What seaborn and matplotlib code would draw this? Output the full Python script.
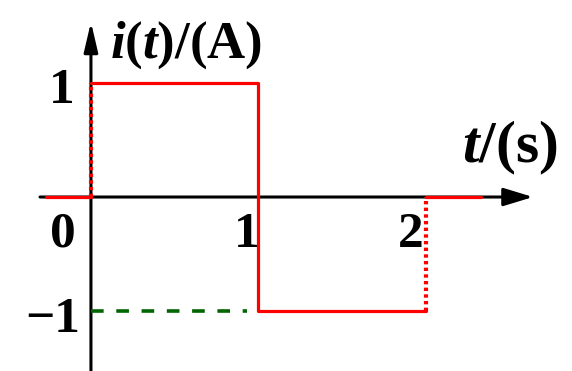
import matplotlib
matplotlib.use("Agg")
import matplotlib.pyplot as plt
import seaborn as sns
import pandas as pd

sns.set_style("white")
plt.rcParams["font.family"] = ["Liberation Serif", "DejaVu Serif"]
plt.rcParams["text.color"] = "black"
plt.rcParams["mathtext.fontset"] = "custom"
plt.rcParams["mathtext.rm"] = "Liberation Serif:bold"
plt.rcParams["mathtext.bf"] = "Liberation Serif:bold"
plt.rcParams["mathtext.it"] = "Liberation Serif:bold:italic"
plt.rcParams["mathtext.bfit"] = "Liberation Serif:bold:italic"

# Square pulse i(t): +1 A on (0,1), -1 A on (1,2), zero elsewhere
t_before = [-0.27, 0.0]
i_before = [0.0, 0.0]
t_rise = [0.0, 0.0]
i_rise = [0.0, 1.0]
t_pulse = [0.0, 1.0, 1.0, 2.0]
i_pulse = [1.0, 1.0, -1.0, -1.0]
t_return = [2.0, 2.0]
i_return = [-1.0, 0.0]
t_after = [2.0, 2.33]
i_after = [0.0, 0.0]
t_ref = [0.0, 0.93]
i_ref = [-1.0, -1.0]

x_ticks = [0, 1, 2]
x_tick_labels = ["0", "1", "2"]
y_ticks = [1, -1]
y_tick_labels = ["1", "\u22121"]

fig = plt.figure(figsize=(5.72, 3.71), dpi=100)
ax = fig.add_axes([0, 0, 1, 1])
ax.set_xlim(-0.543, 2.872)
ax.set_ylim(-1.526, 1.728)
ax.axis("off")

red = "#ff0000"
lw = 2.3

def seg(t, i, **kw):
    df = pd.DataFrame({"t": t, "i": i})
    sns.lineplot(data=df, x="t", y="i", sort=False, estimator=None, ax=ax, **kw)

# coordinate axes with arrow heads
ax.annotate("", xy=(2.639, 0), xytext=(-0.304, 0),
            arrowprops=dict(arrowstyle="-|>,head_length=1.8,head_width=0.55",
                            lw=2.2, color="black", shrinkA=0, shrinkB=0), zorder=2)
ax.annotate("", xy=(0, 1.535), xytext=(0, -1.6),
            arrowprops=dict(arrowstyle="-|>,head_length=1.8,head_width=0.42",
                            lw=2.2, color="black", shrinkA=0, shrinkB=0), zorder=2)

seg(t_ref, i_ref, color="#006400", lw=2.6, linestyle=(0, (3.5, 3.5)), zorder=3)
seg(t_before, i_before, color=red, lw=lw, zorder=4)
seg(t_rise, i_rise, color=red, lw=3.0, linestyle=(0, (0.8, 0.8)), zorder=4)
seg(t_pulse, i_pulse, color=red, lw=lw, zorder=4)
seg(t_return, i_return, color=red, lw=3.0, linestyle=(0, (0.8, 0.8)), zorder=4)
seg(t_after, i_after, color=red, lw=lw, zorder=4)
ax.set_xlabel("")
ax.set_ylabel("")

tick_font = dict(fontsize=37, fontweight="bold", color="black")
x_offsets = [-0.17, -0.07, -0.09]
for v, lab, dx in zip(x_ticks, x_tick_labels, x_offsets):
    ax.text(v + dx, -0.33, lab, ha="center", va="center", **tick_font)
ax.text(-0.175, 0.93, y_tick_labels[0], ha="center", va="center", **tick_font)
ax.text(-0.23, -1.08, y_tick_labels[1], ha="center", va="center", **tick_font)

ax.text(0.113, 1.22, r"$\mathbfit{i}\mathbf{(}\mathbfit{t}\mathbf{)/(A)}$",
        ha="left", va="baseline", fontsize=38, color="black")
ax.text(2.215, 0.30, r"$\mathbfit{t}\mathbf{/(s)}$",
        ha="left", va="baseline", fontsize=43, color="black")

fig.savefig("out.png", dpi=100)
